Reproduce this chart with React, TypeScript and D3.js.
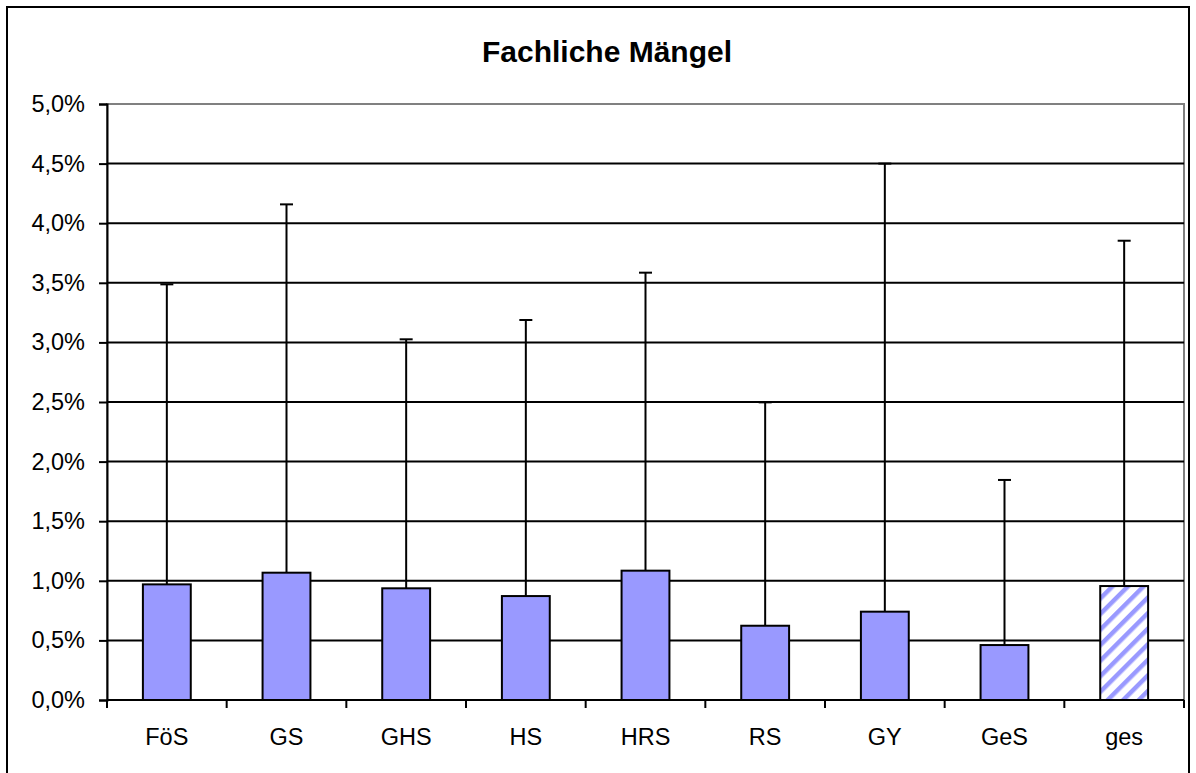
import React, { useEffect, useRef } from 'react';
import * as d3 from 'd3';

const W = 1196, H = 773;

const categories = ['FöS', 'GS', 'GHS', 'HS', 'HRS', 'RS', 'GY', 'GeS', 'ges'];
const values = [0.97, 1.068, 0.937, 0.872, 1.085, 0.623, 0.741, 0.461, 0.956];
const errorTops = [3.487, 4.158, 3.026, 3.188, 3.585, 2.497, 4.5, 1.846, 3.853];
const yTicks = [0, 0.5, 1, 1.5, 2, 2.5, 3, 3.5, 4, 4.5, 5];
const hatched = ['ges'];

const margin = { left: 107, right: 1184, top: 104, bottom: 700 };

const App = () => {
    const ref = useRef<SVGSVGElement>(null);

    useEffect(() => {
        const svg = d3.select(ref.current);
        svg.selectAll('*').remove();

        const x = d3.scaleBand<string>()
            .domain(categories)
            .range([margin.left, margin.right])
            .paddingInner(0.6)
            .paddingOuter(0.3);
        const y = d3.scaleLinear().domain([0, 5]).range([margin.bottom, margin.top]);

        const defs = svg.append('defs');
        const pat = defs.append('pattern')
            .attr('id', 'hatch')
            .attr('patternUnits', 'userSpaceOnUse')
            .attr('width', 11)
            .attr('height', 11)
            .attr('patternTransform', 'rotate(45)');
        pat.append('rect').attr('width', 11).attr('height', 11).attr('fill', 'white');
        pat.append('rect').attr('x', 0).attr('width', 4.5).attr('height', 11).attr('fill', '#9999ff');

        // outer frame
        svg.append('rect')
            .attr('x', 7).attr('y', 7)
            .attr('width', 1182).attr('height', 780)
            .attr('fill', 'white')
            .attr('stroke', 'black')
            .attr('stroke-width', 2);

        svg.append('text')
            .attr('x', 607)
            .attr('y', 62)
            .attr('text-anchor', 'middle')
            .attr('font-family', 'Liberation Sans, Arial, sans-serif')
            .attr('font-weight', 'bold')
            .attr('font-size', 30)
            .text('Fachliche Mängel');

        // plot area border (gray)
        svg.append('rect')
            .attr('x', margin.left).attr('y', margin.top)
            .attr('width', margin.right - margin.left)
            .attr('height', margin.bottom - margin.top)
            .attr('fill', 'none')
            .attr('stroke', '#808080')
            .attr('stroke-width', 2);

        // gridlines
        svg.append('g')
            .selectAll('line')
            .data(yTicks.filter(t => t > 0 && t < 5))
            .join('line')
            .attr('x1', margin.left).attr('x2', margin.right)
            .attr('y1', d => y(d)).attr('y2', d => y(d))
            .attr('stroke', 'black')
            .attr('stroke-width', 2);

        // y axis
        const yAxis = svg.append('g')
            .attr('transform', `translate(${margin.left},0)`)
            .call(d3.axisLeft(y).tickValues(yTicks).tickSize(8).tickPadding(14)
                .tickFormat(d => d3.format('.1f')(+d).replace('.', ',') + '%'));
        yAxis.select('.domain').attr('stroke', 'black').attr('stroke-width', 2);
        yAxis.selectAll('.tick line').attr('stroke-width', 2);
        yAxis.selectAll('text')
            .attr('font-family', 'Liberation Sans, Arial, sans-serif')
            .attr('font-size', 23.5)
            .attr('fill', 'black');

        // x axis with ticks between categories
        const xAxisG = svg.append('g');
        xAxisG.append('line')
            .attr('x1', margin.left).attr('x2', margin.right)
            .attr('y1', margin.bottom).attr('y2', margin.bottom)
            .attr('stroke', 'black').attr('stroke-width', 2);
        const step = x.step();
        xAxisG.selectAll('line.tk')
            .data(d3.range(categories.length + 1))
            .join('line')
            .attr('class', 'tk')
            .attr('x1', i => margin.left + i * step).attr('x2', i => margin.left + i * step)
            .attr('y1', margin.bottom).attr('y2', margin.bottom + 8)
            .attr('stroke', 'black').attr('stroke-width', 2);
        xAxisG.selectAll('text')
            .data(categories)
            .join('text')
            .attr('x', d => x(d)! + x.bandwidth() / 2)
            .attr('y', 745)
            .attr('text-anchor', 'middle')
            .attr('font-family', 'Liberation Sans, Arial, sans-serif')
            .attr('font-size', 23.5)
            .text(d => d);

        // error bars
        const eb = svg.append('g').attr('stroke', 'black').attr('stroke-width', 2);
        categories.forEach((c, i) => {
            const cx = x(c)! + x.bandwidth() / 2;
            eb.append('line')
                .attr('x1', cx).attr('x2', cx)
                .attr('y1', y(values[i])).attr('y2', y(errorTops[i]));
            eb.append('line')
                .attr('x1', cx - 6.5).attr('x2', cx + 6.5)
                .attr('y1', y(errorTops[i])).attr('y2', y(errorTops[i]));
        });

        // bars
        svg.append('g')
            .selectAll('rect')
            .data(categories)
            .join('rect')
            .attr('x', d => x(d)!)
            .attr('y', (d, i) => y(values[i]))
            .attr('width', x.bandwidth())
            .attr('height', (d, i) => y(0) - y(values[i]))
            .attr('fill', d => hatched.includes(d) ? 'url(#hatch)' : '#9999ff')
            .attr('stroke', 'black')
            .attr('stroke-width', 2);
    }, []);

    return (
        <svg ref={ref} width={W} height={H}
            style={{ position: 'absolute', left: 0, top: 0, background: 'white' }} />
    );
};

export default App;
